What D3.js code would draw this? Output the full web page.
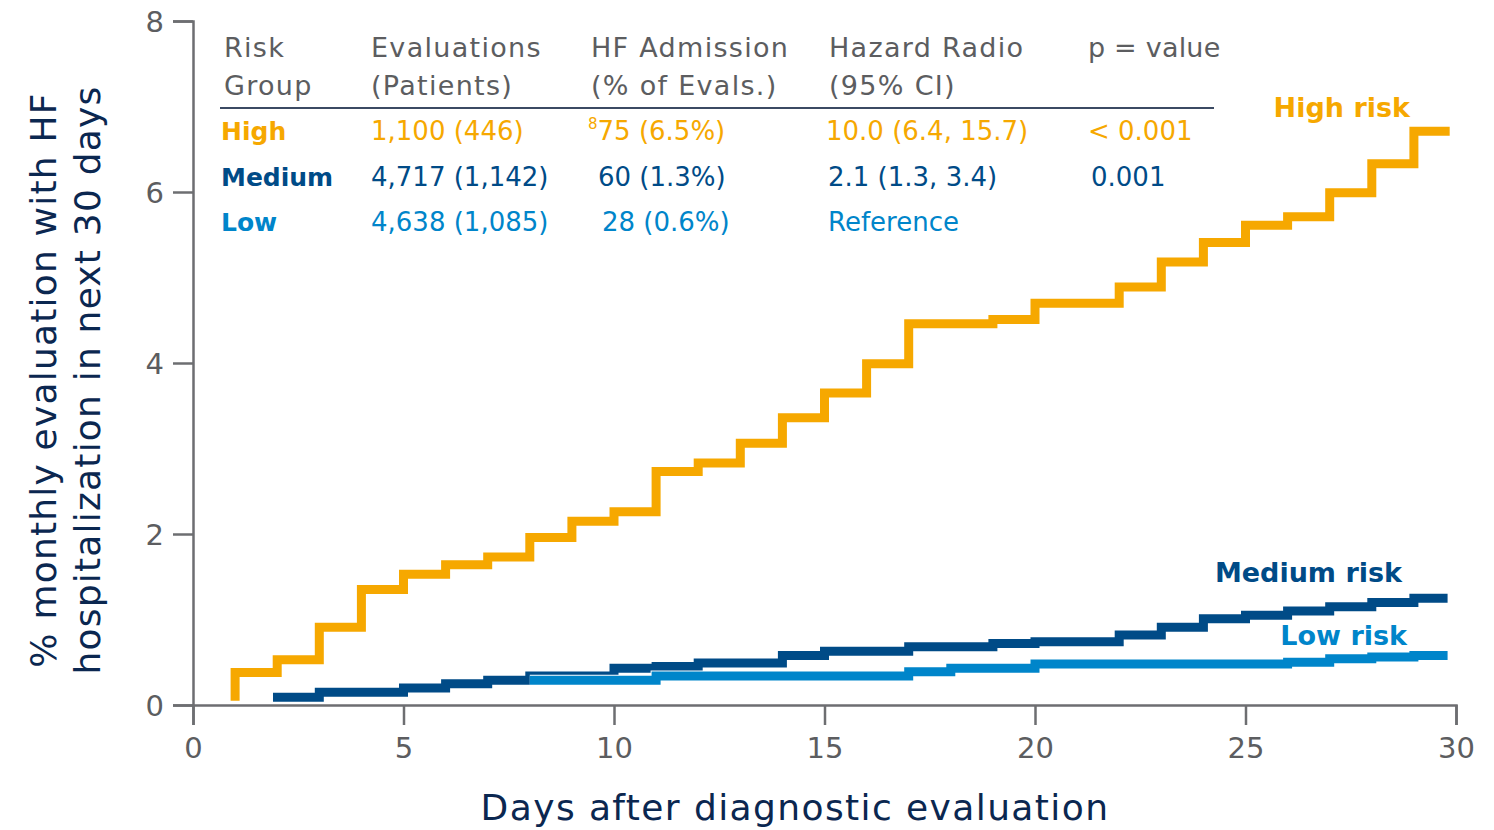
<!DOCTYPE html>
<html lang="en">

<head>
    <meta charset="UTF-8">
    <title>HF hospitalization by risk group</title>
    <script src="https://d3js.org/d3.v7.min.js"></script>
    <style>
        body {
            margin: 0;
            padding: 0;
            background: #fff;
        }

        svg {
            display: block;
            font-family: "DejaVu Sans", sans-serif;
        }
    </style>
</head>

<body>
<script>

    // days of each step (value holds from that day until the next one)
    var highDays = [1, 1, 2, 3, 4, 5, 6, 7, 8, 9, 10, 11, 12, 13, 14, 15, 16, 17, 19, 20, 22, 23, 24, 25, 26, 27, 28, 29, 29.85]
    var highVals = [0.05, 0.38, 0.53, 0.91, 1.35, 1.53, 1.64, 1.73, 1.96, 2.15, 2.26, 2.73, 2.83, 3.06, 3.36, 3.65, 3.99, 4.46, 4.51, 4.70, 4.89, 5.18, 5.41, 5.61, 5.71, 5.99, 6.33, 6.71, 6.71]

    var medDays = [1.9, 3, 5, 6, 7, 8, 10, 11, 12, 14, 15, 17, 19, 20, 22, 23, 24, 25, 26, 27, 28, 29, 29.8]
    var medVals = [0.09, 0.15, 0.20, 0.25, 0.29, 0.34, 0.43, 0.45, 0.49, 0.58, 0.63, 0.68, 0.72, 0.74, 0.82, 0.91, 1.01, 1.05, 1.10, 1.15, 1.20, 1.25, 1.25]

    var lowDays = [8, 11, 17, 18, 20, 26, 27, 28, 29, 29.8]
    var lowVals = [0.29, 0.34, 0.39, 0.43, 0.48, 0.50, 0.54, 0.56, 0.58, 0.58]

    var xTicks = [0, 5, 10, 15, 20, 25, 30]
    var yTicks = [0, 2, 4, 6, 8]

    // summary table
    var tableHeads = [["Risk", "Group"], ["Evaluations", "(Patients)"], ["HF Admission", "(% of Evals.)"], ["Hazard Radio", "(95% CI)"], ["p = value", ""]]
    var groups = ["High", "Medium", "Low"]
    var evaluations = ["1,100 (446)", "4,717 (1,142)", "4,638 (1,085)"]
    var admissions = ["75 (6.5%)", "60 (1.3%)", "28 (0.6%)"]
    var hazards = ["10.0 (6.4, 15.7)", "2.1 (1.3, 3.4)", "Reference"]
    var pValues = ["< 0.001", "0.001", ""]
    var lineLabels = ["High risk", "Medium risk", "Low risk"]

    var colors = { High: '#f6a800', Medium: '#004b87', Low: '#0085ca' }
    var gray = '#5c5d60'
    var navy = '#0b2750'

    var width = 1494, height = 830
    var margin = { left: 193, right: 38, top: 21, bottom: 125 }

    var svg = d3.select('body').append('svg')
        .attr('width', width)
        .attr('height', height)

    var x = d3.scaleLinear().domain([0, 30]).range([margin.left, width - margin.right])
    var y = d3.scaleLinear().domain([0, 8]).range([height - margin.bottom, margin.top])

    function drawAxes() {
        var gx = svg.append('g')
            .attr('transform', 'translate(0,' + y(0) + ')')
            .call(d3.axisBottom(x).tickValues(xTicks).tickSize(20).tickPadding(12))
        var gy = svg.append('g')
            .attr('transform', 'translate(' + x(0) + ',0)')
            .call(d3.axisLeft(y).tickValues(yTicks).tickSize(20).tickPadding(9))

        ;[gx, gy].forEach(function (g) {
            g.selectAll('path, line').attr('stroke', '#6d6e71').attr('stroke-width', 2.5)
            g.selectAll('text')
                .attr('fill', gray)
                .style('font-size', '29px')
                .style('font-family', '"DejaVu Sans", sans-serif')
        })
        gy.selectAll('text').attr('dy', '0.35em')

        svg.append('text')
            .attr('x', 795)
            .attr('y', 820)
            .attr('text-anchor', 'middle')
            .attr('fill', navy)
            .style('font-size', '36px')
            .style('letter-spacing', '1.4px')
            .text('Days after diagnostic evaluation')

        var yl = svg.append('text')
            .attr('transform', 'translate(56,380) rotate(-90)')
            .attr('text-anchor', 'middle')
            .attr('fill', navy)
            .style('font-size', '36px')
            .style('letter-spacing', '1.2px')
        yl.append('tspan').attr('x', 0).attr('y', 0).text('% monthly evaluation with HF')
        yl.append('tspan').attr('x', 0).attr('y', 44).text('hospitalization in next 30 days')
    }

    function drawStep(days, vals, color) {
        var pts = days.map(function (d, i) { return [d, vals[i]] })
        var line = d3.line()
            .x(function (d) { return x(d[0]) })
            .y(function (d) { return y(d[1]) })
            .curve(d3.curveStepAfter)

        svg.append('path')
            .attr('d', line(pts))
            .attr('fill', 'none')
            .attr('stroke', '#fff')
            .attr('stroke-width', 11)
        svg.append('path')
            .attr('d', line(pts))
            .attr('fill', 'none')
            .attr('stroke', color)
            .attr('stroke-width', 9)
    }

    function drawTable() {
        var colX = [224, 371, 591, 829, 1088]
        var headSpacing = [1.3, 1.3, 1.3, 1.3, 0.2]
        var valX = [221, 371, 598, 828, 1088]
        var t = svg.append('g').style('font-size', '26px')

        tableHeads.forEach(function (h, i) {
            h.forEach(function (s, j) {
                t.append('text')
                    .attr('x', colX[i])
                    .attr('y', 57 + j * 38)
                    .attr('fill', gray)
                    .style('font-size', '27px')
                    .style('letter-spacing', headSpacing[i] + 'px')
                    .text(s)
            })
        })

        t.append('line')
            .attr('x1', 220).attr('x2', 1214)
            .attr('y1', 108).attr('y2', 108)
            .attr('stroke', '#3b4a63')
            .attr('stroke-width', 2)

        var rowY = [140, 186, 231]
        var admOffset = [0, 0, 4]
        groups.forEach(function (g, i) {
            var c = colors[g]
            t.append('text').attr('x', valX[0]).attr('y', rowY[i]).attr('fill', c)
                .style('font-weight', 700).style('font-size', '25px').text(g)
            t.append('text').attr('x', valX[1]).attr('y', rowY[i]).attr('fill', c).text(evaluations[i])
            var adm = t.append('text').attr('x', valX[2] + admOffset[i]).attr('y', rowY[i]).attr('fill', c)
            if (i == 0) {
                // footnote marker before the first count
                adm.attr('x', 588)
                adm.append('tspan').style('font-size', '15px').attr('dy', -11).text('8')
                adm.append('tspan').attr('dy', 11).text(admissions[i])
            } else {
                adm.text(admissions[i])
            }
            t.append('text').attr('x', valX[3] + (i == 0 ? -2 : 0)).attr('y', rowY[i]).attr('fill', c).text(hazards[i])
            t.append('text').attr('x', valX[4] + (i == 1 ? 3 : 0)).attr('y', rowY[i]).attr('fill', c).text(pValues[i])
        })
    }

    function drawLabels() {
        var pos = [[1410, 117], [1402, 582], [1407, 645]]
        lineLabels.forEach(function (s, i) {
            svg.append('text')
                .attr('x', pos[i][0])
                .attr('y', pos[i][1])
                .attr('text-anchor', 'end')
                .attr('fill', colors[groups[i]])
                .style('font-size', '27px')
                .style('font-weight', 700)
                .text(s)
        })
    }

    drawAxes()
    drawStep(highDays, highVals, colors.High)
    drawStep(medDays, medVals, colors.Medium)
    drawStep(lowDays, lowVals, colors.Low)
    drawTable()
    drawLabels()

</script>
</body>

</html>
